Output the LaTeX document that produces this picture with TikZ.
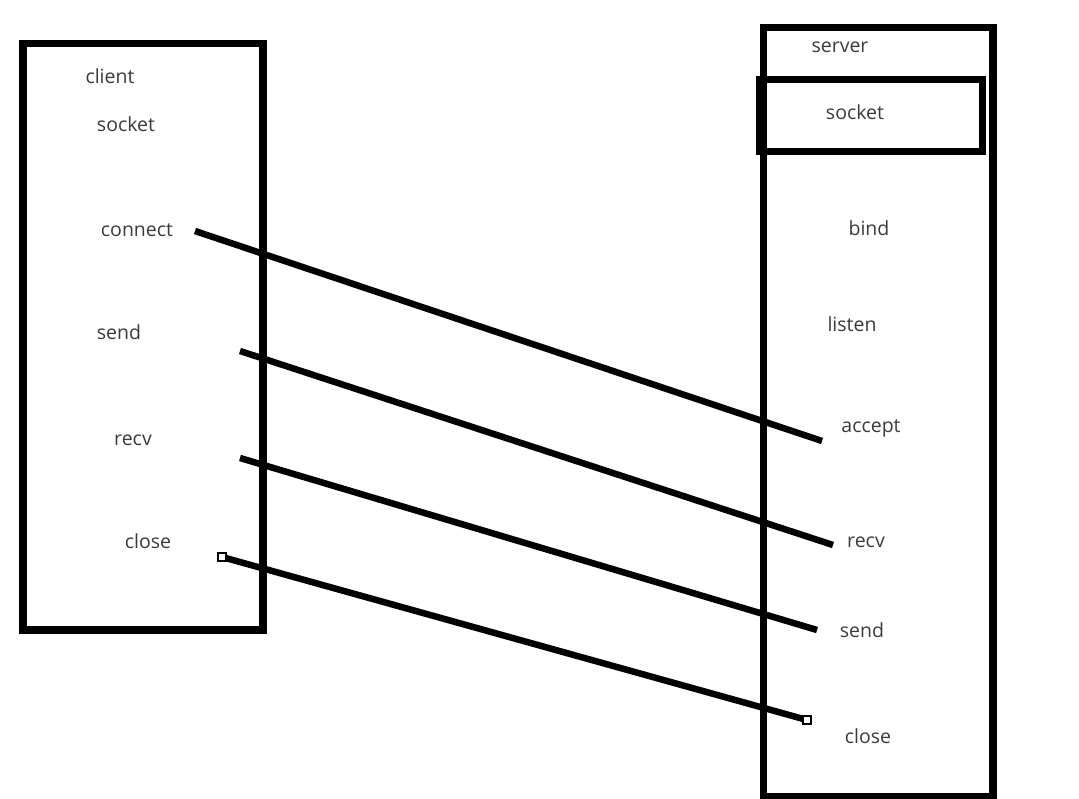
\documentclass[tikz,border=0pt]{standalone}
\usepackage{fontspec}
\setmainfont{Open Sans}
\definecolor{txt}{HTML}{3A3A3A}
\begin{document}
\begin{tikzpicture}[x=1pt,y=-1pt,
  lbl/.style={text=txt,font=\fontsize{19.5}{22}\selectfont,inner sep=0pt,anchor=center},
  frame/.style={draw=black,line width=7.5pt},
  msg/.style={draw=black,line width=6.5pt},
  endsq/.style={draw=black,fill=white,line width=1.2pt,minimum size=8pt,inner sep=0pt,rectangle}]
\useasboundingbox (0,0) rectangle (1079,799);
% boxes
\draw[frame] (23,43.5) rectangle (263,630);
\draw[frame] (763.5,27.5) rectangle (993,797);
\draw[frame] (760,79.5) rectangle (982.5,151.5);
% client labels
\node[lbl] (cclient) at (110,76) {client};
\node[lbl] (csocket) at (126,124) {socket};
\node[lbl] (cconnect) at (137,230) {connect};
\node[lbl] (csend) at (119,332) {send};
\node[lbl] (crecv) at (133,440) {recv};
\node[lbl] (cclose) at (148,541) {close};
% server labels
\node[lbl] (sserver) at (840,47) {server};
\node[lbl] (ssocket) at (855,112) {socket};
\node[lbl] (sbind) at (869,228) {bind};
\node[lbl] (slisten) at (852,324) {listen};
\node[lbl] (saccept) at (871,428) {accept};
\node[lbl] (srecv) at (866,542) {recv};
\node[lbl] (ssend) at (862,630) {send};
\node[lbl] (sclose) at (868,736) {close};
% connector endpoints
\coordinate (a1) at (195,231);
\coordinate (a2) at (822,441);
\coordinate (b1) at (240,351);
\coordinate (b2) at (833,545);
\coordinate (c1) at (240,458);
\coordinate (c2) at (817,630);
\coordinate (d1) at (222,557);
\coordinate (d2) at (807,720);
\draw[msg] (a1) -- (a2);
\draw[msg] (b1) -- (b2);
\draw[msg] (c1) -- (c2);
\draw[msg] (d1) -- (d2);
\node[endsq] (sq1) at (d1) {};
\node[endsq] (sq2) at (d2) {};
\end{tikzpicture}
\end{document}
